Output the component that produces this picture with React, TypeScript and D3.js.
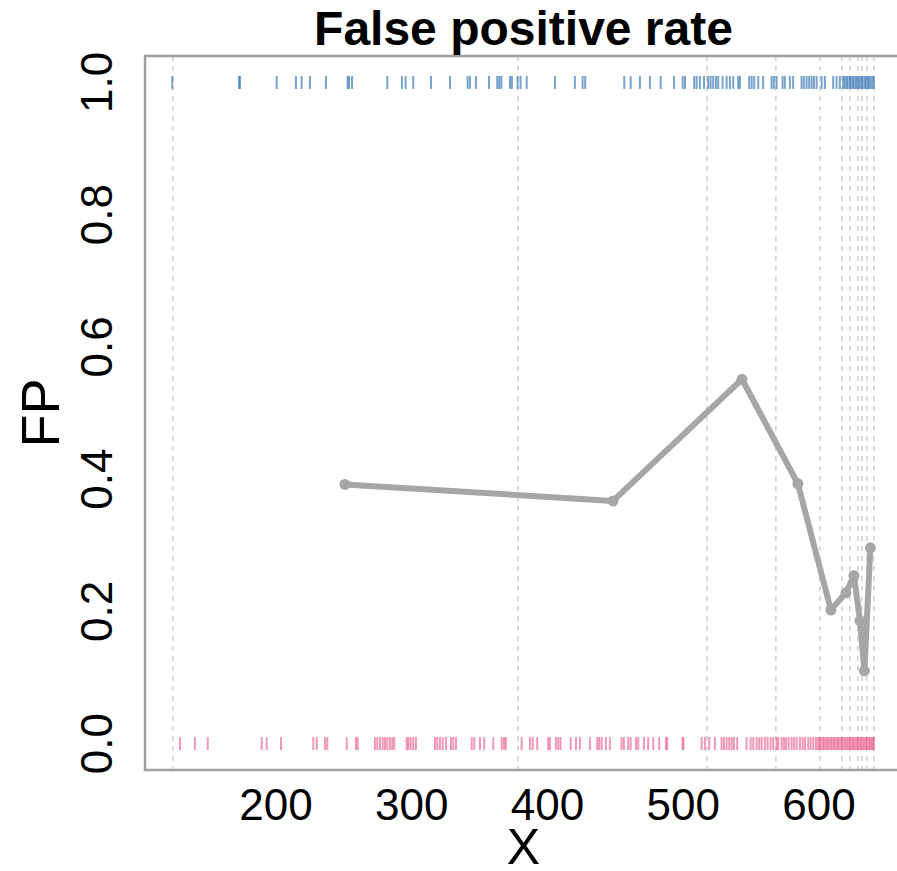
import { useEffect, useRef } from 'react';
import * as d3 from 'd3';

// bin boundaries (dashed verticals)
const binEdges = [124.1, 378.3, 517.5, 568.3, 600.7, 616.9, 622.8, 628.7, 631.6, 635.3, 640.5];

// false positive rate per bin
const fpX = [250.8, 448.3, 543.3, 584.5, 608.8, 619.9, 625.8, 630.2, 633.5, 637.9];
const fpY = [0.392, 0.367, 0.551, 0.393, 0.202, 0.228, 0.254, 0.186, 0.110, 0.296];

// observations with outcome 1 (top rug)
const posX = [
  123.6, 172.7, 173.5, 200.5, 214.7, 218.9, 225.0, 236.8, 252.8, 253.8, 256.0, 282.0, 292.8,
  295.5, 301.1, 314.2, 328.2, 341.2, 342.9, 347.3, 356.9, 363.0, 364.5, 366.0, 372.4, 373.8,
  378.0, 380.2, 384.7, 405.5, 420.2, 425.9, 427.8, 456.6, 461.3, 468.1, 475.5, 483.4, 493.2,
  499.6, 501.3, 508.1, 509.9, 512.3, 515.3, 518.4, 520.2, 522.1, 524.1, 525.8, 529.0, 532.0,
  534.4, 536.9, 540.5, 541.8, 548.6, 550.4, 552.3, 555.3, 558.9, 565.1, 566.8, 568.8, 573.2,
  574.9, 578.6, 581.0, 587.2, 588.9, 590.9, 592.8, 594.6, 596.3, 598.3, 602.0, 604.4, 610.5,
  613.0, 615.4, 617.9, 618.9, 620.3, 621.1, 622.6, 623.4, 624.8, 625.5, 626.9, 627.8, 629.1,
  630.0, 631.4, 632.2, 633.7, 634.5, 635.9, 636.6, 637.8, 639.2, 640.5,
];

// observations with outcome 0 (bottom rug)
const negX = [
  129.3, 140.3, 149.7, 189.5, 193.1, 203.7, 227.5, 230.0, 236.1, 237.8, 252.1, 258.9, 260.2,
  272.9, 274.6, 276.6, 278.6, 280.3, 282.0, 284.0, 285.7, 287.1, 296.3, 297.5, 299.2, 301.1,
  303.1, 317.1, 318.8, 320.8, 322.8, 325.2, 328.9, 330.6, 332.6, 344.2, 346.1, 350.3, 353.4,
  360.1, 366.3, 368.0, 369.4, 381.0, 387.1, 389.1, 392.5, 400.6, 401.8, 406.2, 408.0, 409.7,
  417.1, 421.0, 423.9, 431.3, 436.7, 438.1, 439.9, 443.1, 446.0, 454.6, 456.3, 459.5, 461.3,
  465.2, 466.9, 471.1, 474.2, 477.9, 482.3, 487.3, 488.2, 499.6, 500.1, 513.6, 516.0, 519.2,
  523.4, 528.3, 530.0, 532.0, 533.9, 535.7, 537.4, 539.8, 546.7, 549.7, 551.6, 554.1, 556.0,
  557.8, 560.2, 562.2, 564.4, 566.3, 568.8, 570.0, 572.5, 574.2, 575.7, 577.7, 579.9, 581.8,
  583.6, 586.0, 588.0, 589.7, 592.1, 593.9, 595.8, 597.8, 599.3, 600.6, 601.4, 602.9, 603.8,
  605.1, 606.3, 607.2, 608.6, 609.4, 610.8, 611.7, 613.1, 614.0, 615.2, 616.5, 617.3, 618.7,
  619.6, 620.8, 621.9, 623.0, 624.2, 625.3, 626.1, 627.4, 628.5, 629.3, 630.6, 631.4, 632.7,
  633.6, 634.8, 635.5, 636.9, 637.7, 638.8, 639.6, 640.5,
];

const xTicks = [200, 300, 400, 500, 600];
const yTicks = [0, 0.2, 0.4, 0.6, 0.8, 1.0];

const W = 897;
const H = 871;

const App = () => {
  const svgRef = useRef<SVGSVGElement>(null);

  useEffect(() => {
    const svg = d3.select(svgRef.current);
    svg.selectAll('*').remove();

    const left = 145, right = 902, top = 56, bottom = 770;
    const font = 'Liberation Sans, Arial, Helvetica, sans-serif';

    const x = d3.scaleLinear().domain([103.5, 661.2]).range([left, right]);
    const y = d3.scaleLinear().domain([-0.04, 1.04]).range([bottom, top]);

    svg.append('rect')
      .attr('width', W)
      .attr('height', H)
      .attr('fill', '#fff');

    // dashed bin edges
    svg.selectAll('.edge')
      .data(binEdges)
      .enter()
      .append('line')
      .attr('x1', d => x(d))
      .attr('x2', d => x(d))
      .attr('y1', top)
      .attr('y2', bottom)
      .attr('stroke', '#c4c4c4')
      .attr('stroke-width', 1.2)
      .attr('stroke-dasharray', '5,5');

    // rugs
    svg.selectAll('.pos')
      .data(posX)
      .enter()
      .append('line')
      .attr('x1', d => x(d))
      .attr('x2', d => x(d))
      .attr('y1', y(1) - 6.5)
      .attr('y2', y(1) + 6.5)
      .attr('stroke', '#3f7cb8')
      .attr('stroke-opacity', 0.7)
      .attr('stroke-width', 2);

    svg.selectAll('.neg')
      .data(negX)
      .enter()
      .append('line')
      .attr('x1', d => x(d))
      .attr('x2', d => x(d))
      .attr('y1', y(0) - 6.5)
      .attr('y2', y(0) + 6.5)
      .attr('stroke', '#e8588a')
      .attr('stroke-opacity', 0.62)
      .attr('stroke-width', 2);

    // FP line
    const pts = fpX.map((v, i) => [v, fpY[i]] as [number, number]);
    const line = d3.line<[number, number]>()
      .x(d => x(d[0]))
      .y(d => y(d[1]));

    svg.append('path')
      .datum(pts)
      .attr('d', line)
      .attr('fill', 'none')
      .attr('stroke', '#a6a6a6')
      .attr('stroke-width', 6)
      .attr('stroke-linejoin', 'round');

    svg.selectAll('.pt')
      .data(pts)
      .enter()
      .append('circle')
      .attr('cx', d => x(d[0]))
      .attr('cy', d => y(d[1]))
      .attr('r', 5.5)
      .attr('fill', '#a6a6a6');

    // box
    svg.append('rect')
      .attr('x', left)
      .attr('y', top)
      .attr('width', right - left)
      .attr('height', bottom - top)
      .attr('fill', 'none')
      .attr('stroke', '#a0a0a0')
      .attr('stroke-width', 2.5);

    // x tick labels
    svg.selectAll('.xl')
      .data(xTicks)
      .enter()
      .append('text')
      .attr('x', d => x(d))
      .attr('y', 820)
      .attr('text-anchor', 'middle')
      .attr('font-family', font)
      .attr('font-size', 44)
      .text(d => d);

    // y tick labels
    svg.selectAll('.yl')
      .data(yTicks)
      .enter()
      .append('text')
      .attr('transform', d => `translate(112, ${y(d)}) rotate(-90)`)
      .attr('text-anchor', 'middle')
      .attr('font-family', font)
      .attr('font-size', 44)
      .text(d => d.toFixed(1));

    // titles
    svg.append('text')
      .attr('x', (left + right) / 2)
      .attr('y', 45)
      .attr('text-anchor', 'middle')
      .attr('font-family', font)
      .attr('font-weight', 'bold')
      .attr('font-size', 48)
      .text('False positive rate');

    svg.append('text')
      .attr('x', (left + right) / 2)
      .attr('y', 864)
      .attr('text-anchor', 'middle')
      .attr('font-family', font)
      .attr('font-size', 50)
      .text('X');

    svg.append('text')
      .attr('transform', `translate(59, ${(top + bottom) / 2}) rotate(-90)`)
      .attr('text-anchor', 'middle')
      .attr('font-family', font)
      .attr('font-size', 54)
      .text('FP');
  }, []);

  return (
    <svg
      ref={svgRef}
      width={W}
      height={H}
      style={{ position: 'absolute', left: 0, top: 0, display: 'block' }}
    />
  );
};

export default App;
